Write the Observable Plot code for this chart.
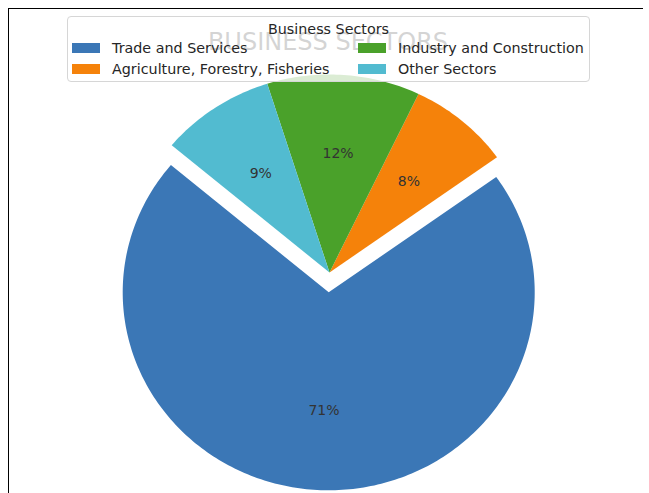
<!DOCTYPE html>
<html>
<head>
<meta charset="utf-8">
<script src="https://cdn.jsdelivr.net/npm/d3@7"></script>
<script src="https://cdn.jsdelivr.net/npm/@observablehq/plot@0.6"></script>
<style>
  html, body { margin: 0; padding: 0; background: #fff; }
  #wrap { position: relative; width: 649px; height: 493px; overflow: hidden; font-family: "DejaVu Sans", sans-serif; }
  #frame { position: absolute; left: 8px; top: 8px; width: 635px; height: 490px; border-top: 1px solid #000; border-left: 1px solid #000; box-sizing: border-box; }
  #chart { position: absolute; left: 0; top: 0; }
  #title { position: absolute; left: 0; width: 656px; top: 30px; line-height: 24px; font-size: 24px; text-align: center; color: #2a2a2a; }
  #legend { position: absolute; left: 67px; top: 16px; width: 523px; height: 66px; box-sizing: border-box; border: 1px solid #d6d6d6; border-radius: 4px; background: rgba(255,255,255,0.8); color: #262626; font-size: 14.3px; }
  #legend .lt { position: absolute; left: 0; right: 0; top: 4px; line-height: 16px; text-align: center; }
  #legend .sw { position: absolute; width: 28px; height: 10px; }
  #legend .lb { position: absolute; line-height: 16px; white-space: nowrap; }
</style>
</head>
<body>
<div id="wrap">
  <div id="frame"></div>
  <div id="chart"></div>
  <div id="title"></div>
  <div id="legend"></div>
</div>
<script>
const chartTitle = "BUSINESS SECTORS";
const legendTitle = "Business Sectors";
const sectors = ["Trade and Services", "Agriculture, Forestry, Fisheries", "Industry and Construction", "Other Sectors"];
const shares = [71, 8, 12, 9];
const explode = [0.1, 0, 0, 0];
const colors = ["#3b77b6", "#f5820a", "#4aa12a", "#52bbd0"];
const startAngle = 140;

const total = d3.sum(shares);
const rows = [];
const labels = [];
let cum = 0;
sectors.forEach((s, i) => {
  const t1 = startAngle + cum / total * 360;
  cum += shares[i];
  const t2 = startAngle + cum / total * 360;
  const mid = (t1 + t2) / 2 * Math.PI / 180;
  const ox = explode[i] * Math.cos(mid), oy = explode[i] * Math.sin(mid);
  rows.push({sector: s, x: ox, y: oy});
  const n = Math.max(2, Math.ceil(t2 - t1));
  for (let k = 0; k <= n; k++) {
    const a = (t1 + (t2 - t1) * k / n) * Math.PI / 180;
    rows.push({sector: s, x: ox + Math.cos(a), y: oy + Math.sin(a)});
  }
  rows.push({sector: s, x: ox, y: oy});
  labels.push({x: ox + 0.6 * Math.cos(mid), y: oy + 0.6 * Math.sin(mid), label: Math.round(shares[i] / total * 100) + "%"});
});

const plot = Plot.plot({
  width: 649,
  height: 493,
  margin: 0,
  style: {fontFamily: "DejaVu Sans", background: "transparent"},
  x: {domain: [-1, 1], range: [123, 535], axis: null},
  y: {domain: [-1, 1], range: [470, 74], axis: null},
  color: {domain: sectors, range: colors},
  marks: [
    Plot.line(rows, {x: "x", y: "y", z: "sector", fill: "sector", stroke: "none"}),
    Plot.text(labels, {x: "x", y: "y", text: "label", fontSize: 14, fill: "#333"})
  ]
});
document.getElementById("chart").appendChild(plot);

document.getElementById("title").textContent = chartTitle;
const leg = document.getElementById("legend");
const lt = document.createElement("div");
lt.className = "lt";
lt.textContent = legendTitle;
leg.appendChild(lt);
sectors.forEach((s, i) => {
  const col = Math.floor(i / 2), row = i % 2;
  const sw = document.createElement("div");
  sw.className = "sw";
  sw.style.left = (4 + col * 286) + "px";
  sw.style.top = (26 + row * 21) + "px";
  sw.style.background = colors[i];
  leg.appendChild(sw);
  const lb = document.createElement("div");
  lb.className = "lb";
  lb.style.left = (44 + col * 286) + "px";
  lb.style.top = (23 + row * 21) + "px";
  lb.textContent = s;
  leg.appendChild(lb);
});
</script>
</body>
</html>
